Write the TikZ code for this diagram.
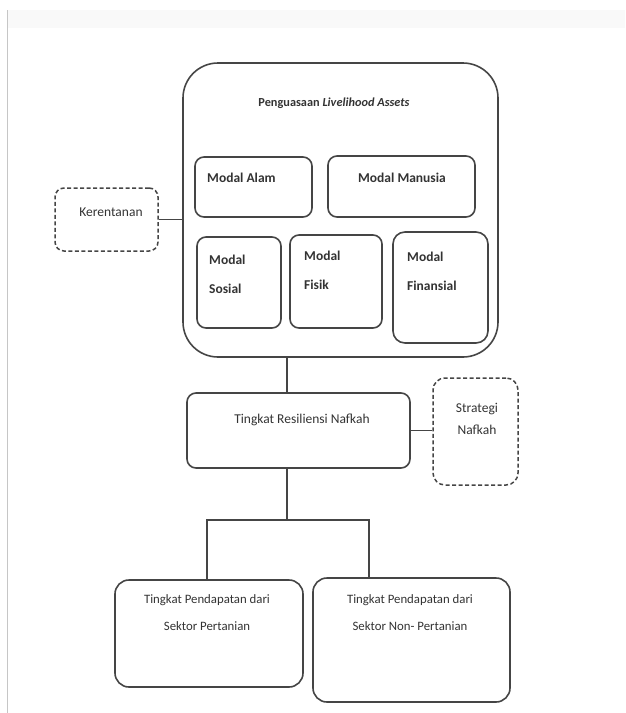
\documentclass[tikz,border=0pt]{standalone}
\usepackage{fontspec}
\setmainfont{Carlito}
\usetikzlibrary{positioning}
\definecolor{boxline}{HTML}{454545}
\definecolor{txtgray}{HTML}{333333}

\begin{document}
\begin{tikzpicture}[x=1pt, y=-1pt, font=\fontsize{13.5}{15}\selectfont, text=txtgray,
  box/.style={draw=boxline, line width=1.6pt, rounded corners=9pt, inner sep=0pt},
  dashbox/.style={draw=boxline, line width=1.5pt, dash pattern=on 4pt off 2.5pt, rounded corners=9pt, inner sep=0pt},
  link/.style={draw=boxline, line width=1.3pt},
  boldtxt/.style={font=\fontsize{13.5}{29}\selectfont\bfseries, align=left, inner sep=0pt}]
  \useasboundingbox (0,0) rectangle (625,713);
  % page edge of the scan
  \fill[gray!5] (7,10) rectangle (625,28);
  \draw[gray!45, line width=1pt] (7,10) -- (7,713);

  % livelihood assets
  \node[box, rounded corners=35pt, minimum width=315pt, minimum height=294pt] (assets) at (340.5,210) {};
  \node[inner sep=0pt, font=\fontsize{12.3}{14}\selectfont\bfseries] (assetsttl) at (334,103) {Penguasaan \textit{Livelihood Assets}};
  \node[box, minimum width=117pt, minimum height=60pt] (alam) at (253.5,187) {};
  \node[boldtxt, anchor=west] (alamtxt) at (207,178) {Modal Alam};
  \node[box, minimum width=147pt, minimum height=61pt] (manusia) at (401.5,186.5) {};
  \node[boldtxt] (manusiatxt) at (402,178) {Modal Manusia};
  \node[box, minimum width=84pt, minimum height=91pt] (sosial) at (239,282.5) {};
  \node[boldtxt, anchor=west] (sosialtxt) at (209,274) {Modal\\Sosial};
  \node[box, minimum width=92pt, minimum height=93pt] (fisik) at (336,281.5) {};
  \node[boldtxt, anchor=west] (fisiktxt) at (304,270) {Modal\\Fisik};
  \node[box, rounded corners=12pt, minimum width=95pt, minimum height=111pt] (finansial) at (440.5,287.5) {};
  \node[boldtxt, anchor=west] (finansialtxt) at (407,271) {Modal\\Finansial};

  % vulnerability and strategy
  \node[dashbox, minimum width=103pt, minimum height=63pt] (keren) at (106.5,219.5) {};
  \node[inner sep=0pt] (kerentxt) at (111,212) {Kerentanan};
  \node[box, minimum width=223pt, minimum height=75pt] (resil) at (298.5,430.5) {};
  \node[inner sep=0pt] (resiltxt) at (302,420) {Tingkat Resiliensi Nafkah};
  \node[dashbox, rounded corners=12pt, minimum width=85pt, minimum height=107pt] (strat) at (475.5,431.5) {};
  \node[inner sep=0pt, align=center, font=\fontsize{13.5}{22}\selectfont] (strattxt) at (477,419) {Strategi\\Nafkah};

  % income levels
  \node[box, rounded corners=14pt, minimum width=188pt, minimum height=107pt] (tani) at (209,633.5) {};
  \node[inner sep=0pt, align=center, font=\fontsize{12.8}{27}\selectfont] (tanitxt) at (207,613) {Tingkat Pendapatan dari\\Sektor Pertanian};
  \node[box, rounded corners=14pt, minimum width=197pt, minimum height=124pt] (nontani) at (411.5,640) {};
  \node[inner sep=0pt, align=center, font=\fontsize{12.8}{27}\selectfont] (nontanitxt) at (410,613) {Tingkat Pendapatan dari\\Sektor Non- Pertanian};

  \coordinate (trunk) at (287,520);
  \coordinate (forkL) at (207,520);
  \coordinate (forkR) at (369,520);
  \draw[link] (keren.east) -- (keren.east -| assets.west);
  \draw[link] (trunk |- assets.south) -- (trunk |- resil.north);
  \draw[link] (trunk |- resil.south) -- (trunk);
  \draw[link] (forkL |- tani.north) -- (forkL) -- (forkR) -- (forkR |- nontani.north);
  \draw[link] (resil.east) -- (resil.east -| strat.west);
\end{tikzpicture}
\end{document}
